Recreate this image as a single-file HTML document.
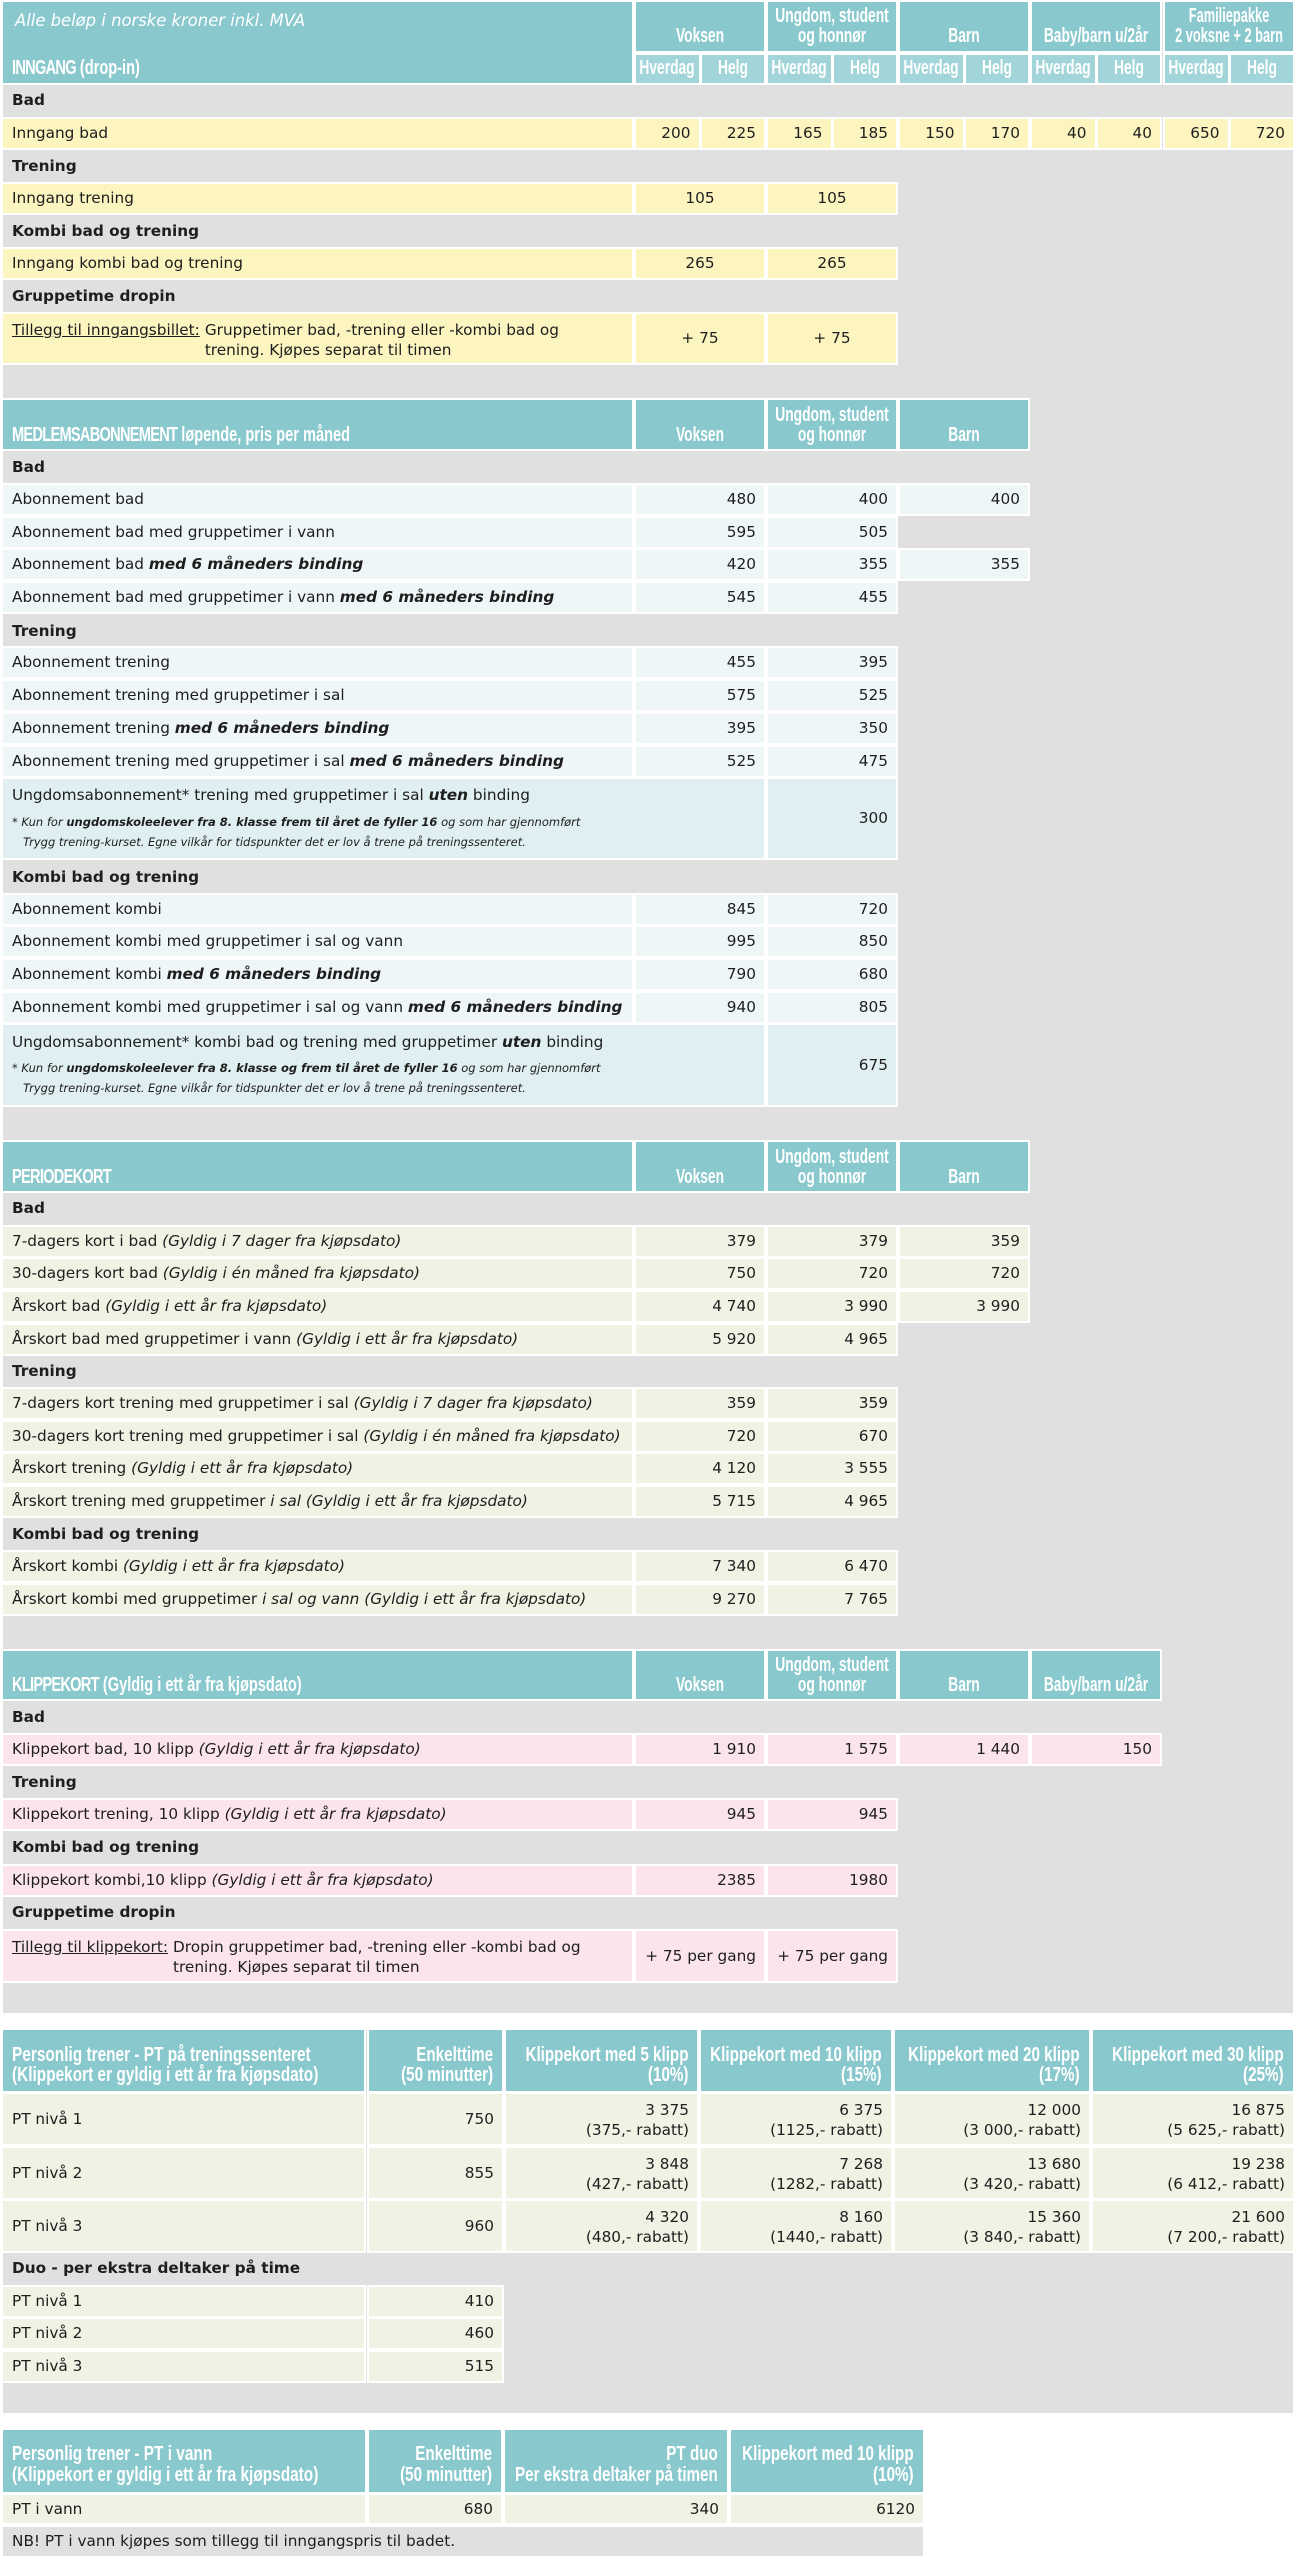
<!DOCTYPE html>
<html lang="no">
<head>
<meta charset="utf-8">
<style>
*{margin:0;padding:0;box-sizing:border-box}
html,body{width:1295px;height:2560px;background:#fff;overflow:hidden}
body{position:relative;font-family:"DejaVu Sans","Liberation Sans",sans-serif;font-size:15.3px;color:#1e1e1e}
.g{position:absolute;background:#e0e0e0}
.c{position:absolute;box-shadow:0 0 0 2px #fff;white-space:nowrap;height:29px;line-height:29px;overflow:hidden}
.h{background:#89c8cd;color:#fff}
.hs{background:#a1d5d9;color:#fff}
.yl{background:#fcf5c0}
.bl{background:#eef6f7}
.bd{background:#e0eff2}
.gr{background:#eef3e4}
.pk{background:#fbe4ee}
.gy{background:#e0e0e0}
.t{padding-left:9px}
.n{text-align:right;padding-right:8px}
.m{text-align:center}
.gh{position:absolute;left:12px;font-weight:bold;line-height:29px;height:29px;white-space:nowrap}
.k{position:absolute;bottom:4px;font-family:"Liberation Sans",sans-serif;font-weight:bold;font-size:20px;line-height:20px;white-space:nowrap;color:#fff}
.kl{left:9px;transform:scaleX(.73);transform-origin:0 100%}
.kc{left:50%;text-align:center;transform:translateX(-50%) scaleX(.69)}
.kr{right:9px;text-align:right;transform:scaleX(.76);transform-origin:100% 100%}
.cap{letter-spacing:-1px}
.L{left:3px;width:629px}
.L2{left:3px;width:761px}
.V{left:636px;width:128px}
.U{left:768px;width:128px}
.B{left:900px;width:128px}
.Y{left:1032px;width:128px}
.F{left:1165px;width:128px}
.s0,.s1,.s2,.s3,.s4,.s5,.s6,.s7,.s8,.s9{width:62.5px}
.s0{left:636px}.s1{left:701.5px}.s2{left:768px}.s3{left:833.5px}.s4{left:900px}.s5{left:965.5px}.s6{left:1032px}.s7{left:1097.5px}.s8{left:1165px}.s9{left:1230.5px}
.P0{left:3px;width:361px}.P1{left:369px;width:133px}.P2{left:506px;width:191px}.P3{left:701px;width:190px}.P4{left:895px;width:194px}.P5{left:1093px;width:200px}
.Q0{left:3px;width:362px}.Q1{left:369px;width:132px}.Q2{left:505px;width:222px}.Q3{left:731px;width:192px}
.two{line-height:20px;padding-top:6px}
.sm{font-size:11.5px;font-style:italic;line-height:20px}
</style>
</head>
<body>

<!-- gray blocks -->
<div class="g" style="left:3px;top:2px;width:1290px;height:2011px"></div>
<div class="g" style="left:3px;top:2030px;width:1290px;height:383px"></div>

<!-- ============ SECTION 1: INNGANG ============ -->
<div class="c h" style="left:3px;top:2px;width:629px;height:81px">
  <div style="position:absolute;left:12px;top:8.5px;font-style:italic;font-size:16.4px;line-height:20px;color:#fff">Alle beløp i norske kroner inkl. MVA</div>
  <span class="k kl" style="bottom:5px"><span class="cap">INNGANG</span> (drop-in)</span>
</div>
<div class="c h V" style="top:2px;height:49px"><span class="k kc" style="bottom:5px">Voksen</span></div>
<div class="c h U" style="top:2px;height:49px"><span class="k kc" style="bottom:5px">Ungdom, student<br>og honnør</span></div>
<div class="c h B" style="top:2px;height:49px"><span class="k kc" style="bottom:5px">Barn</span></div>
<div class="c h Y" style="top:2px;height:49px"><span class="k kc" style="bottom:5px">Baby/barn u/2år</span></div>
<div class="c h F" style="top:2px;height:49px"><span class="k kc" style="bottom:5px;transform:translateX(-50%) scaleX(.64)">Familiepakke<br>2 voksne + 2 barn</span></div>

<div class="c hs s0" style="top:55px;height:28px"><span class="k kc" style="bottom:5px">Hverdag</span></div>
<div class="c hs s1" style="top:55px;height:28px"><span class="k kc" style="bottom:5px">Helg</span></div>
<div class="c hs s2" style="top:55px;height:28px"><span class="k kc" style="bottom:5px">Hverdag</span></div>
<div class="c hs s3" style="top:55px;height:28px"><span class="k kc" style="bottom:5px">Helg</span></div>
<div class="c hs s4" style="top:55px;height:28px"><span class="k kc" style="bottom:5px">Hverdag</span></div>
<div class="c hs s5" style="top:55px;height:28px"><span class="k kc" style="bottom:5px">Helg</span></div>
<div class="c hs s6" style="top:55px;height:28px"><span class="k kc" style="bottom:5px">Hverdag</span></div>
<div class="c hs s7" style="top:55px;height:28px"><span class="k kc" style="bottom:5px">Helg</span></div>
<div class="c hs s8" style="top:55px;height:28px"><span class="k kc" style="bottom:5px">Hverdag</span></div>
<div class="c hs s9" style="top:55px;height:28px"><span class="k kc" style="bottom:5px">Helg</span></div>

<div class="gh" style="top:86px">Bad</div>
<div class="c yl L t" style="top:119px">Inngang bad</div>
<div class="c yl s0 n" style="top:119px">200</div>
<div class="c yl s1 n" style="top:119px">225</div>
<div class="c yl s2 n" style="top:119px">165</div>
<div class="c yl s3 n" style="top:119px">185</div>
<div class="c yl s4 n" style="top:119px">150</div>
<div class="c yl s5 n" style="top:119px">170</div>
<div class="c yl s6 n" style="top:119px">40</div>
<div class="c yl s7 n" style="top:119px">40</div>
<div class="c yl s8 n" style="top:119px">650</div>
<div class="c yl s9 n" style="top:119px">720</div>

<div class="gh" style="top:152px">Trening</div>
<div class="c yl L t" style="top:184px">Inngang trening</div>
<div class="c yl V m" style="top:184px">105</div>
<div class="c yl U m" style="top:184px">105</div>

<div class="gh" style="top:217px">Kombi bad og trening</div>
<div class="c yl L t" style="top:249px">Inngang kombi bad og trening</div>
<div class="c yl V m" style="top:249px">265</div>
<div class="c yl U m" style="top:249px">265</div>

<div class="gh" style="top:282px">Gruppetime dropin</div>
<div class="c yl L t" style="top:314px;height:49px;line-height:20px;padding-top:6px;display:flex"><span style="text-decoration:underline">Tillegg til inngangsbillet:</span><span style="padding-left:5px">Gruppetimer bad, -trening eller -kombi bad og<br>trening. Kjøpes separat til timen</span></div>
<div class="c yl V m" style="top:314px;height:49px;line-height:49px">+ 75</div>
<div class="c yl U m" style="top:314px;height:49px;line-height:49px">+ 75</div>

<!-- ============ SECTION 2: MEDLEMSABONNEMENT ============ -->
<div class="c h L" style="top:400px;height:49px"><span class="k kl"><span class="cap">MEDLEMSABONNEMENT</span> løpende, pris per måned</span></div>
<div class="c h V" style="top:400px;height:49px"><span class="k kc">Voksen</span></div>
<div class="c h U" style="top:400px;height:49px"><span class="k kc">Ungdom, student<br>og honnør</span></div>
<div class="c h B" style="top:400px;height:49px"><span class="k kc">Barn</span></div>

<div class="gh" style="top:453px">Bad</div>
<div class="c bl L t" style="top:485px">Abonnement bad</div>
<div class="c bl V n" style="top:485px">480</div>
<div class="c bl U n" style="top:485px">400</div>
<div class="c bl B n" style="top:485px">400</div>

<div class="c bl L t" style="top:518px">Abonnement bad med gruppetimer i vann</div>
<div class="c bl V n" style="top:518px">595</div>
<div class="c bl U n" style="top:518px">505</div>

<div class="c bl L t" style="top:550px">Abonnement bad <b><i>med 6 måneders binding</i></b></div>
<div class="c bl V n" style="top:550px">420</div>
<div class="c bl U n" style="top:550px">355</div>
<div class="c bl B n" style="top:550px">355</div>

<div class="c bl L t" style="top:583px">Abonnement bad med gruppetimer i vann <b><i>med 6 måneders binding</i></b></div>
<div class="c bl V n" style="top:583px">545</div>
<div class="c bl U n" style="top:583px">455</div>

<div class="gh" style="top:617px">Trening</div>
<div class="c bl L t" style="top:648px">Abonnement trening</div>
<div class="c bl V n" style="top:648px">455</div>
<div class="c bl U n" style="top:648px">395</div>

<div class="c bl L t" style="top:681px">Abonnement trening med gruppetimer i sal</div>
<div class="c bl V n" style="top:681px">575</div>
<div class="c bl U n" style="top:681px">525</div>

<div class="c bl L t" style="top:714px">Abonnement trening <b><i>med 6 måneders binding</i></b></div>
<div class="c bl V n" style="top:714px">395</div>
<div class="c bl U n" style="top:714px">350</div>

<div class="c bl L t" style="top:747px">Abonnement trening med gruppetimer i sal <b><i>med 6 måneders binding</i></b></div>
<div class="c bl V n" style="top:747px">525</div>
<div class="c bl U n" style="top:747px">475</div>

<div class="c bd L2 t" style="top:779px;height:79px;line-height:20px;padding-top:6px">
  <div>Ungdomsabonnement* trening med gruppetimer i sal <b><i>uten</i></b> binding</div>
  <div class="sm" style="margin-top:7px">* Kun for <b>ungdomskoleelever fra 8. klasse frem til året de fyller 16</b> og som har gjennomført<br><span style="display:inline-block;width:11px"></span>Trygg trening-kurset. Egne vilkår for tidspunkter det er lov å trene på treningssenteret.</div>
</div>
<div class="c bd U n" style="top:779px;height:79px;line-height:79px">300</div>

<div class="gh" style="top:863px">Kombi bad og trening</div>
<div class="c bl L t" style="top:895px">Abonnement kombi</div>
<div class="c bl V n" style="top:895px">845</div>
<div class="c bl U n" style="top:895px">720</div>

<div class="c bl L t" style="top:927px">Abonnement kombi med gruppetimer i sal og vann</div>
<div class="c bl V n" style="top:927px">995</div>
<div class="c bl U n" style="top:927px">850</div>

<div class="c bl L t" style="top:960px">Abonnement kombi <b><i>med 6 måneders binding</i></b></div>
<div class="c bl V n" style="top:960px">790</div>
<div class="c bl U n" style="top:960px">680</div>

<div class="c bl L t" style="top:993px">Abonnement kombi med gruppetimer i sal og vann <b><i>med 6 måneders binding</i></b></div>
<div class="c bl V n" style="top:993px">940</div>
<div class="c bl U n" style="top:993px">805</div>

<div class="c bd L2 t" style="top:1025px;height:80px;line-height:20px;padding-top:7px">
  <div>Ungdomsabonnement* kombi bad og trening med gruppetimer <b><i>uten</i></b> binding</div>
  <div class="sm" style="margin-top:6px">* Kun for <b>ungdomskoleelever fra 8. klasse og frem til året de fyller 16</b> og som har gjennomført<br><span style="display:inline-block;width:11px"></span>Trygg trening-kurset. Egne vilkår for tidspunkter det er lov å trene på treningssenteret.</div>
</div>
<div class="c bd U n" style="top:1025px;height:80px;line-height:80px">675</div>

<!-- ============ SECTION 3: PERIODEKORT ============ -->
<div class="c h L" style="top:1142px;height:49px"><span class="k kl"><span class="cap">PERIODEKORT</span></span></div>
<div class="c h V" style="top:1142px;height:49px"><span class="k kc">Voksen</span></div>
<div class="c h U" style="top:1142px;height:49px"><span class="k kc">Ungdom, student<br>og honnør</span></div>
<div class="c h B" style="top:1142px;height:49px"><span class="k kc">Barn</span></div>

<div class="gh" style="top:1194px">Bad</div>
<div class="c gr L t" style="top:1227px">7-dagers kort i bad <i>(Gyldig i 7 dager fra kjøpsdato)</i></div>
<div class="c gr V n" style="top:1227px">379</div>
<div class="c gr U n" style="top:1227px">379</div>
<div class="c gr B n" style="top:1227px">359</div>

<div class="c gr L t" style="top:1259px">30-dagers kort bad <i>(Gyldig i én måned fra kjøpsdato)</i></div>
<div class="c gr V n" style="top:1259px">750</div>
<div class="c gr U n" style="top:1259px">720</div>
<div class="c gr B n" style="top:1259px">720</div>

<div class="c gr L t" style="top:1292px">Årskort bad <i>(Gyldig i ett år fra kjøpsdato)</i></div>
<div class="c gr V n" style="top:1292px">4 740</div>
<div class="c gr U n" style="top:1292px">3 990</div>
<div class="c gr B n" style="top:1292px">3 990</div>

<div class="c gr L t" style="top:1325px">Årskort bad med gruppetimer i vann <i>(Gyldig i ett år fra kjøpsdato)</i></div>
<div class="c gr V n" style="top:1325px">5 920</div>
<div class="c gr U n" style="top:1325px">4 965</div>

<div class="gh" style="top:1357px">Trening</div>
<div class="c gr L t" style="top:1389px">7-dagers kort trening med gruppetimer i sal <i>(Gyldig i 7 dager fra kjøpsdato)</i></div>
<div class="c gr V n" style="top:1389px">359</div>
<div class="c gr U n" style="top:1389px">359</div>

<div class="c gr L t" style="top:1422px">30-dagers kort trening med gruppetimer i sal <i>(Gyldig i én måned fra kjøpsdato)</i></div>
<div class="c gr V n" style="top:1422px">720</div>
<div class="c gr U n" style="top:1422px">670</div>

<div class="c gr L t" style="top:1454px">Årskort trening <i>(Gyldig i ett år fra kjøpsdato)</i></div>
<div class="c gr V n" style="top:1454px">4 120</div>
<div class="c gr U n" style="top:1454px">3 555</div>

<div class="c gr L t" style="top:1487px">Årskort trening med gruppetimer <i>i sal (Gyldig i ett år fra kjøpsdato)</i></div>
<div class="c gr V n" style="top:1487px">5 715</div>
<div class="c gr U n" style="top:1487px">4 965</div>

<div class="gh" style="top:1520px">Kombi bad og trening</div>
<div class="c gr L t" style="top:1552px">Årskort kombi <i>(Gyldig i ett år fra kjøpsdato)</i></div>
<div class="c gr V n" style="top:1552px">7 340</div>
<div class="c gr U n" style="top:1552px">6 470</div>

<div class="c gr L t" style="top:1585px">Årskort kombi med gruppetimer <i>i sal og vann (Gyldig i ett år fra kjøpsdato)</i></div>
<div class="c gr V n" style="top:1585px">9 270</div>
<div class="c gr U n" style="top:1585px">7 765</div>

<!-- ============ SECTION 4: KLIPPEKORT ============ -->
<div class="c h L" style="top:1651px;height:48px"><span class="k kl"><span class="cap">KLIPPEKORT</span> (Gyldig i ett år fra kjøpsdato)</span></div>
<div class="c h V" style="top:1651px;height:48px"><span class="k kc">Voksen</span></div>
<div class="c h U" style="top:1651px;height:48px"><span class="k kc">Ungdom, student<br>og honnør</span></div>
<div class="c h B" style="top:1651px;height:48px"><span class="k kc">Barn</span></div>
<div class="c h Y" style="top:1651px;height:48px"><span class="k kc">Baby/barn u/2år</span></div>

<div class="gh" style="top:1703px">Bad</div>
<div class="c pk L t" style="top:1735px">Klippekort bad, 10 klipp <i>(Gyldig i ett år fra kjøpsdato)</i></div>
<div class="c pk V n" style="top:1735px">1 910</div>
<div class="c pk U n" style="top:1735px">1 575</div>
<div class="c pk B n" style="top:1735px">1 440</div>
<div class="c pk Y n" style="top:1735px">150</div>

<div class="gh" style="top:1768px">Trening</div>
<div class="c pk L t" style="top:1800px">Klippekort trening, 10 klipp <i>(Gyldig i ett år fra kjøpsdato)</i></div>
<div class="c pk V n" style="top:1800px">945</div>
<div class="c pk U n" style="top:1800px">945</div>

<div class="gh" style="top:1833px">Kombi bad og trening</div>
<div class="c pk L t" style="top:1866px">Klippekort kombi,10 klipp <i>(Gyldig i ett år fra kjøpsdato)</i></div>
<div class="c pk V n" style="top:1866px">2385</div>
<div class="c pk U n" style="top:1866px">1980</div>

<div class="gh" style="top:1898px">Gruppetime dropin</div>
<div class="c pk L t" style="top:1931px;height:50px;line-height:20px;padding-top:6px;display:flex"><span style="text-decoration:underline">Tillegg til klippekort:</span><span style="padding-left:5px">Dropin gruppetimer bad, -trening eller -kombi bad og<br>trening. Kjøpes separat til timen</span></div>
<div class="c pk V n" style="top:1931px;height:50px;line-height:50px">+ 75 per gang</div>
<div class="c pk U n" style="top:1931px;height:50px;line-height:50px">+ 75 per gang</div>

<!-- ============ SECTION 5: PT treningssenteret ============ -->
<div class="c h P0" style="top:2030px;height:61px"><span class="k kl" style="bottom:6px;transform:scaleX(.77)">Personlig trener - PT på treningssenteret<br>(Klippekort er gyldig i ett år fra kjøpsdato)</span></div>
<div class="c h P1" style="top:2030px;height:61px"><span class="k kr" style="bottom:6px">Enkelttime<br>(50 minutter)</span></div>
<div class="c h P2" style="top:2030px;height:61px"><span class="k kr" style="bottom:6px">Klippekort med 5 klipp<br>(10%)</span></div>
<div class="c h P3" style="top:2030px;height:61px"><span class="k kr" style="bottom:6px">Klippekort med 10 klipp<br>(15%)</span></div>
<div class="c h P4" style="top:2030px;height:61px"><span class="k kr" style="bottom:6px">Klippekort med 20 klipp<br>(17%)</span></div>
<div class="c h P5" style="top:2030px;height:61px"><span class="k kr" style="bottom:6px">Klippekort med 30 klipp<br>(25%)</span></div>

<div class="c gr P0 t" style="top:2094px;height:50px;line-height:50px">PT nivå 1</div>
<div class="c gr P1 n" style="top:2094px;height:50px;line-height:50px">750</div>
<div class="c gr P2 n two" style="top:2094px;height:50px">3 375<br>(375,- rabatt)</div>
<div class="c gr P3 n two" style="top:2094px;height:50px">6 375<br>(1125,- rabatt)</div>
<div class="c gr P4 n two" style="top:2094px;height:50px">12 000<br>(3 000,- rabatt)</div>
<div class="c gr P5 n two" style="top:2094px;height:50px">16 875<br>(5 625,- rabatt)</div>

<div class="c gr P0 t" style="top:2148px;height:50px;line-height:50px">PT nivå 2</div>
<div class="c gr P1 n" style="top:2148px;height:50px;line-height:50px">855</div>
<div class="c gr P2 n two" style="top:2148px;height:50px">3 848<br>(427,- rabatt)</div>
<div class="c gr P3 n two" style="top:2148px;height:50px">7 268<br>(1282,- rabatt)</div>
<div class="c gr P4 n two" style="top:2148px;height:50px">13 680<br>(3 420,- rabatt)</div>
<div class="c gr P5 n two" style="top:2148px;height:50px">19 238<br>(6 412,- rabatt)</div>

<div class="c gr P0 t" style="top:2201px;height:50px;line-height:50px">PT nivå 3</div>
<div class="c gr P1 n" style="top:2201px;height:50px;line-height:50px">960</div>
<div class="c gr P2 n two" style="top:2201px;height:50px">4 320<br>(480,- rabatt)</div>
<div class="c gr P3 n two" style="top:2201px;height:50px">8 160<br>(1440,- rabatt)</div>
<div class="c gr P4 n two" style="top:2201px;height:50px">15 360<br>(3 840,- rabatt)</div>
<div class="c gr P5 n two" style="top:2201px;height:50px">21 600<br>(7 200,- rabatt)</div>

<div class="gh" style="top:2254px">Duo - per ekstra deltaker på time</div>
<div class="c gr P0 t" style="top:2287px">PT nivå 1</div>
<div class="c gr P1 n" style="top:2287px">410</div>
<div class="c gr P0 t" style="top:2319px">PT nivå 2</div>
<div class="c gr P1 n" style="top:2319px">460</div>
<div class="c gr P0 t" style="top:2352px">PT nivå 3</div>
<div class="c gr P1 n" style="top:2352px">515</div>

<!-- ============ SECTION 6: PT i vann ============ -->
<div class="c h Q0" style="top:2430px;height:62px"><span class="k kl" style="bottom:6px;line-height:21px;transform:scaleX(.77)">Personlig trener - PT i vann<br>(Klippekort er gyldig i ett år fra kjøpsdato)</span></div>
<div class="c h Q1" style="top:2430px;height:62px"><span class="k kr" style="bottom:6px;line-height:21px">Enkelttime<br>(50 minutter)</span></div>
<div class="c h Q2" style="top:2430px;height:62px"><span class="k kr" style="bottom:6px;line-height:21px">PT duo<br>Per ekstra deltaker på timen</span></div>
<div class="c h Q3" style="top:2430px;height:62px"><span class="k kr" style="bottom:6px;line-height:21px">Klippekort med 10 klipp<br>(10%)</span></div>

<div class="c gr Q0 t" style="top:2495px;height:28px;line-height:28px">PT i vann</div>
<div class="c gr Q1 n" style="top:2495px;height:28px;line-height:28px">680</div>
<div class="c gr Q2 n" style="top:2495px;height:28px;line-height:28px">340</div>
<div class="c gr Q3 n" style="top:2495px;height:28px;line-height:28px">6120</div>

<div class="c gy t" style="left:3px;width:920px;top:2527px">NB! PT i vann kjøpes som tillegg til inngangspris til badet.</div>

</body>
</html>
